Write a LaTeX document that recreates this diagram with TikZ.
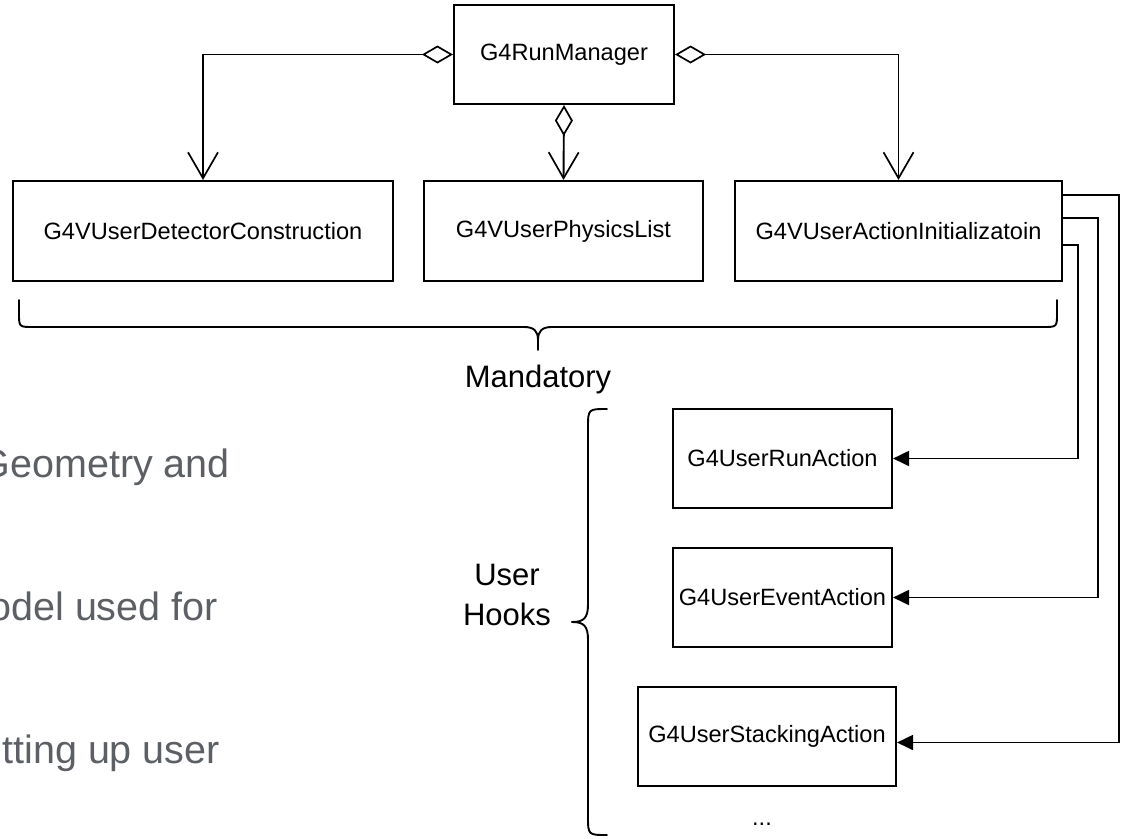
\documentclass[tikz,border=0pt]{standalone}
\usepackage{fontspec}
\setmainfont{Liberation Sans}
\usetikzlibrary{arrows.meta}
\newcommand{\boxfont}{\fontsize{23.6}{28}\selectfont}
\newcommand{\lblfont}{\fontsize{31}{37}\selectfont}
\newcommand{\notefont}{\fontsize{39.5}{46}\selectfont}
\definecolor{notegray}{HTML}{5C5F63}
\tikzset{
  umlbox/.style={draw, line width=2.1pt, inner sep=0pt, font=\boxfont},
  agg/.style={line width=1.9pt,
    {Diamond[open,length=31pt,width=18pt,line width=1.7pt]}-{Straight Barb[length=26pt,width=30pt,line width=1.7pt]}},
  hook/.style={line width=1.9pt, -{Triangle[length=16pt,width=15pt]}},
  bracepath/.style={line width=1.9pt, line cap=round},
  lbl/.style={font=\lblfont, inner sep=0pt, anchor=base},
  note/.style={font=\notefont, text=notegray, inner sep=0pt, anchor=base east},
}
\begin{document}
\begin{tikzpicture}[x=1pt,y=-1pt]
\useasboundingbox (0,0) rectangle (1121,838);
\fill[white] (0,0) rectangle (1121,838);
\clip (0,0) rectangle (1121,838);

% side notes, partly running off the left edge
\node[note] (n1) at (230,477) {Geometry and};
\node[note] (n2) at (218,620) {odel used for};
\node[note] (n3) at (220,763) {tting up user};

% run manager and the mandatory classes
\node[umlbox, minimum width=220pt, minimum height=99pt] (rm) at (564,54.5) {G4RunManager};
\node[umlbox, minimum width=380pt, minimum height=100pt] (det) at (203,231) {G4VUserDetectorConstruction};
\node[umlbox, minimum width=279pt, minimum height=100pt] (pl) at (563.5,231) {G4VUserPhysicsList};
\node[umlbox, minimum width=327pt, minimum height=100pt] (ai) at (898.5,231) {G4VUserActionInitializatoin};

% user hook classes
\node[umlbox, minimum width=219pt, minimum height=99pt] (ra) at (782.5,458.5) {G4UserRunAction};
\node[umlbox, minimum width=219pt, minimum height=99pt] (ea) at (782.5,597.5) {G4UserEventAction};
\node[umlbox, minimum width=258pt, minimum height=99pt] (sa) at (767,736.5) {G4UserStackingAction};
\node[font=\boxfont, inner sep=0pt, anchor=base] (more) at (762,825) {...};

% aggregation links
\draw[agg] (rm.west) -| (det.north);
\draw[agg] (rm.south) -- (pl.north);
\draw[agg] (rm.east) -| (ai.north);

% action initialization feeds the user hooks
\draw[hook] (ai.east |- 0,245) -- (1078,245) |- (ra.east);
\draw[hook] (ai.east |- 0,218) -- (1098,218) |- (ea.east);
\draw[hook] (ai.east |- 0,195) -- (1119,195) |- ([yshift=-6pt]sa.east);

% brace under the mandatory classes
\draw[bracepath] (19,300) -- (19,313) .. controls (19,327) .. (33,327) -- (524,327)
  .. controls (534,327) and (538,331) .. (538,340) -- (538,350);
\draw[bracepath] (538,340) .. controls (538,331) and (542,327) .. (552,327) -- (1043,327)
  .. controls (1057,327) .. (1057,313) -- (1057,300);
\node[lbl] (mand) at (538,387) {Mandatory};

% brace beside the user hooks
\draw[bracepath] (607,409) .. controls (588,409) .. (588,428) -- (588,604)
  .. controls (588,618) and (584,622) .. (572,622);
\draw[bracepath] (572,622) .. controls (584,622) and (588,626) .. (588,640) -- (588,816)
  .. controls (588,835) .. (607,835);
\node[lbl] (user) at (507,585) {User};
\node[lbl] (hooks) at (507,625) {Hooks};
\end{tikzpicture}
\end{document}
